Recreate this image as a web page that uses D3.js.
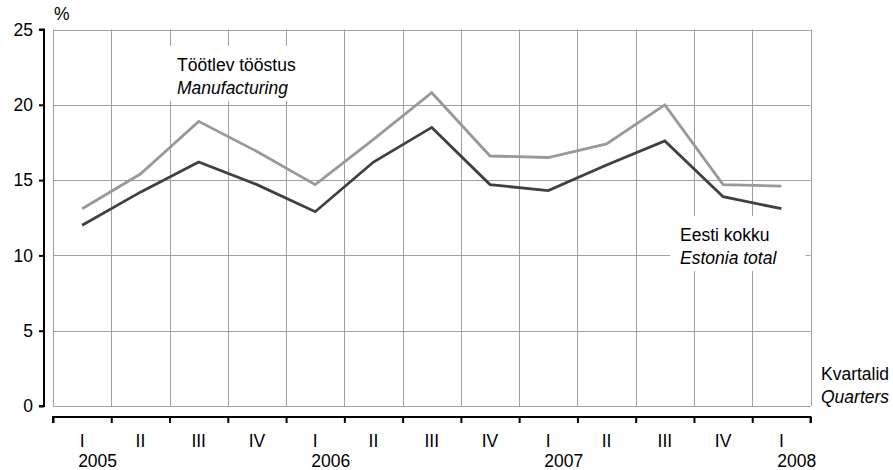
<!DOCTYPE html>
<html>
<head>
<meta charset="utf-8">
<script src="https://cdn.jsdelivr.net/npm/d3@7"></script>
<style>
  body { margin: 0; background: #fff; }
  text { font-family: "Liberation Sans", Arial, sans-serif; fill: #000; }
</style>
</head>
<body>
<script>
// quarters 2005 I .. 2008 I
var quarters = ["I", "II", "III", "IV", "I", "II", "III", "IV", "I", "II", "III", "IV", "I"];
var years = ["2005", "", "", "", "2006", "", "", "", "2007", "", "", "", "2008"];
var yTicks = [0, 5, 10, 15, 20, 25];

// Töötlev tööstus / Manufacturing
var manufacturing = [13.1, 15.4, 18.9, 16.9, 14.7, 17.7, 20.8, 16.6, 16.5, 17.4, 20.0, 14.7, 14.6];
// Eesti kokku / Estonia total
var total = [12.0, 14.2, 16.2, 14.7, 12.9, 16.2, 18.5, 14.7, 14.3, 16.0, 17.6, 13.9, 13.1];

var width = 893, height = 470;
var fs = 17.5;

var svg = d3.select("body").append("svg")
  .attr("width", width)
  .attr("height", height);

// scales
var x = d3.scaleLinear().domain([0, quarters.length]).range([53, 810.5]);
var y = d3.scaleLinear().domain([0, 25]).range([406, 29.5]);

var grid = "#a0a0a0";

// vertical gridlines
var xs = d3.range(quarters.length + 1);
svg.append("g").selectAll("line")
  .data(xs)
  .enter().append("line")
  .attr("x1", function(d) { return Math.round(x(d)) + 0.5; })
  .attr("x2", function(d) { return Math.round(x(d)) + 0.5; })
  .attr("y1", y(25))
  .attr("y2", y(0))
  .attr("stroke", grid)
  .attr("stroke-width", 1);

// horizontal gridlines
svg.append("g").selectAll("line")
  .data(yTicks)
  .enter().append("line")
  .attr("x1", x(0))
  .attr("x2", x(quarters.length))
  .attr("y1", function(d) { return Math.round(y(d)) + 0.5; })
  .attr("y2", function(d) { return Math.round(y(d)) + 0.5; })
  .attr("stroke", grid)
  .attr("stroke-width", 1);

// y axis
var yAxis = svg.append("g")
  .attr("transform", "translate(44,0)")
  .call(d3.axisLeft(y).tickValues(yTicks).tickSize(5).tickPadding(6));
yAxis.selectAll("path, line").attr("stroke", "#000").attr("stroke-width", 2);
yAxis.select(".domain").attr("d", "M-5," + y(25) + "H0V" + y(0) + "H-5");
yAxis.selectAll("text").style("font-size", fs + "px").style("font-family", "Liberation Sans, Arial, sans-serif");

// x axis
var xAxis = svg.append("g")
  .attr("transform", "translate(0,417)")
  .call(d3.axisBottom(x).tickValues(xs).tickSize(6).tickFormat(""));
xAxis.selectAll("path, line").attr("stroke", "#000").attr("stroke-width", 2);
xAxis.select(".domain").attr("d", "M" + x(0) + ",6V0H" + x(quarters.length) + "V6");

// quarter labels
svg.append("g").selectAll("text")
  .data(quarters)
  .enter().append("text")
  .attr("x", function(d, i) { return x(i + 0.5); })
  .attr("y", 447)
  .attr("text-anchor", "middle")
  .style("font-size", fs + "px")
  .text(function(d) { return d; });

// year labels
svg.append("g").selectAll("text")
  .data(years)
  .enter().append("text")
  .attr("x", function(d, i) { return x(i + 0.5) - 4; })
  .attr("y", 467)
  .style("font-size", fs + "px")
  .text(function(d) { return d; });

// lines
var line = d3.line()
  .x(function(d, i) { return x(i + 0.5); })
  .y(function(d) { return y(d); });

svg.append("path")
  .datum(manufacturing)
  .attr("fill", "none")
  .attr("stroke", "#999999")
  .attr("stroke-width", 2.8)
  .attr("d", line);

svg.append("path")
  .datum(total)
  .attr("fill", "none")
  .attr("stroke", "#404040")
  .attr("stroke-width", 2.8)
  .attr("d", line);

// series labels with white boxes
function seriesLabel(lines, lx, ly, padL, padR) {
  var g = svg.append("g");
  var rect = g.append("rect").attr("fill", "#fff");
  g.append("text").attr("x", lx).attr("y", ly).style("font-size", fs + "px").text(lines[0]);
  g.append("text").attr("x", lx).attr("y", ly + 23).style("font-size", fs + "px")
    .style("font-style", "italic").text(lines[1]);
  var bb = g.node().getBBox();
  rect.attr("x", bb.x - padL).attr("y", ly - 25)
    .attr("width", bb.width + padL + padR).attr("height", 55);
}
seriesLabel(["Töötlev tööstus", "Manufacturing"], 177, 71, 12, 4);
seriesLabel(["Eesti kokku", "Estonia total"], 680, 241, 10, 28);

// unit and axis title
svg.append("text").attr("x", 54).attr("y", 20).style("font-size", fs + "px").text("%");
svg.append("text").attr("x", 821).attr("y", 380).style("font-size", fs + "px").text("Kvartalid");
svg.append("text").attr("x", 821).attr("y", 403).style("font-size", fs + "px")
  .style("font-style", "italic").text("Quarters");
</script>
</body>
</html>
